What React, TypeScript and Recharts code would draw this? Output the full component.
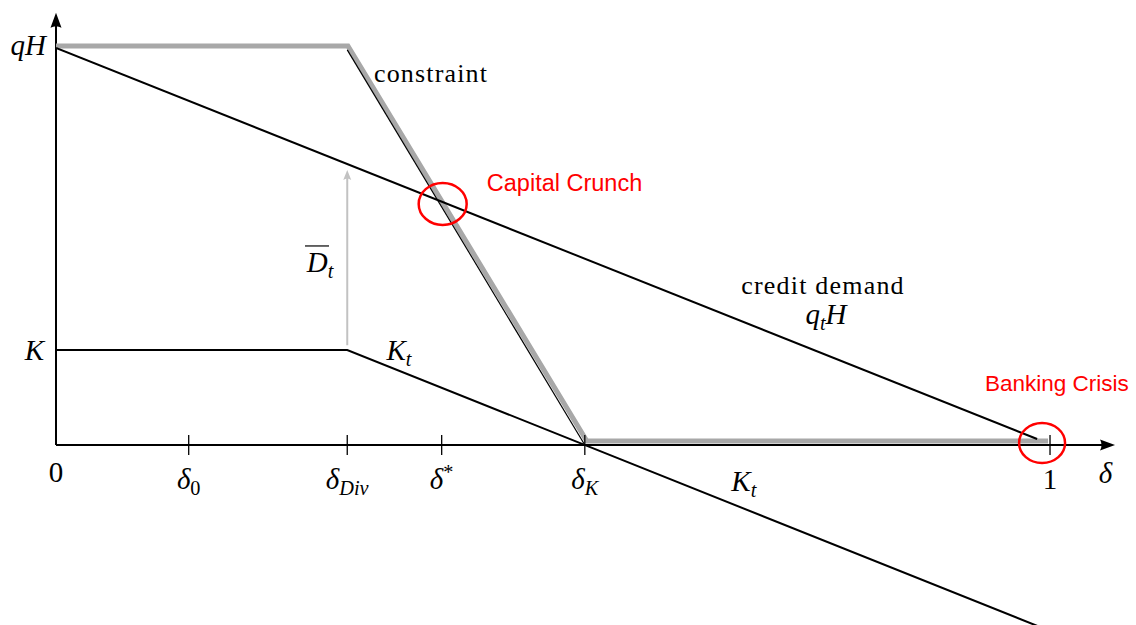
import React from 'react';
import {
  ComposedChart,
  Line,
  XAxis,
  YAxis,
  ReferenceLine,
  ReferenceDot,
} from 'recharts';

// values: δ along x, qH normalised to 1
const delta0 = 0.1335;
const deltaDiv = 0.293;
const deltaStar = 0.388;
const deltaK = 0.532;
const capitalK = 0.238;

const creditDemand = [
  { d: 0, v: 0.995 },
  { d: 0.987, v: 0.015 },
];
const constraintEnvelope = [
  { d: 0, v: 1 },
  { d: 0.2937, v: 1 },
  { d: 0.534, v: 0.01 },
  { d: 0.998, v: 0.01 },
];
const constraintLine = [
  { d: deltaDiv, v: 0.99 },
  { d: deltaK, v: 0 },
];
const capitalPath = [
  { d: 0, v: capitalK },
  { d: deltaDiv, v: capitalK },
  { d: 1, v: -0.466 },
];

type Part = { t: string; it?: boolean; pos?: 'sub' | 'sup' };

const xTicks = [delta0, deltaDiv, deltaStar, deltaK, 1];
const xTickLabels: Part[][] = [
  [{ t: 'δ', it: true }, { t: '0', pos: 'sub' }],
  [{ t: 'δ', it: true }, { t: 'Div', it: true, pos: 'sub' }],
  [{ t: 'δ', it: true }, { t: '*', pos: 'sup' }],
  [{ t: 'δ', it: true }, { t: 'K', it: true, pos: 'sub' }],
  [{ t: '1' }],
];

const SERIF = "'Liberation Serif', 'Times New Roman', serif";
const SANS = "'Liberation Sans', Arial, sans-serif";
const MATH = 29;

function MathText({ x, y, parts, size = MATH, anchor = 'middle', spacing = 0 }: any) {
  let shift = 0;
  const spans = (parts as Part[]).map((p, i) => {
    const target = p.pos === 'sub' ? size * 0.2 : p.pos === 'sup' ? -size * 0.36 : 0;
    const dy = target - shift;
    shift = target;
    return (
      <tspan
        key={i}
        dy={dy}
        fontStyle={p.it ? 'italic' : 'normal'}
        fontSize={p.pos ? size * 0.7 : size}
      >
        {p.t}
      </tspan>
    );
  });
  return (
    <text
      x={x}
      y={y}
      textAnchor={anchor}
      fontFamily={SERIF}
      fontSize={size}
      letterSpacing={spacing}
      fill="#000"
    >
      {spans}
    </text>
  );
}

function ArrowLine(props: any) {
  const { x1, y1, x2, y2, stroke, strokeWidth, head = 15, half = 5.5 } = props;
  const ang = Math.atan2(y2 - y1, x2 - x1);
  const c = Math.cos(ang);
  const s = Math.sin(ang);
  const bx = x2 - head * c;
  const by = y2 - head * s;
  const nx = -s * half;
  const ny = c * half;
  return (
    <g>
      <line x1={x1} y1={y1} x2={bx + 2 * c} y2={by + 2 * s} stroke={stroke} strokeWidth={strokeWidth} />
      <path
        d={`M${x2},${y2} L${bx + nx},${by + ny} Q${bx + 3 * c},${by + 3 * s} ${bx - nx},${by - ny} Z`}
        fill={stroke}
      />
    </g>
  );
}

export default function App() {
  return (
    <div style={{ position: 'absolute', left: 0, top: 0, width: 1136, height: 625, background: '#fff' }}>
      <ComposedChart width={1136} height={625} margin={{ top: 10, right: 16, bottom: 0, left: 56 }}>
        <XAxis dataKey="d" type="number" domain={[0, 1.0704]} allowDataOverflow hide />
        <YAxis type="number" domain={[-0.451, 1.09]} allowDataOverflow hide />

        {/* axes with arrow heads */}
        <ReferenceLine
          segment={[{ x: 0, y: 0 }, { x: 1.0654, y: 0 }]}
          stroke="#000"
          strokeWidth={2}
          shape={(p: any) => <ArrowLine {...p} />}
        />
        <ReferenceLine
          segment={[{ x: 0, y: 0 }, { x: 0, y: 1.083 }]}
          stroke="#000"
          strokeWidth={2}
          shape={(p: any) => <ArrowLine {...p} />}
        />

        {/* gray arrow: D-bar_t */}
        <ReferenceLine
          segment={[{ x: deltaDiv, y: capitalK + 0.012 }, { x: deltaDiv, y: 0.689 }]}
          stroke="#c2c2c2"
          strokeWidth={2}
          shape={(p: any) => <ArrowLine {...p} head={10} half={4} />}
        />

        {/* series */}
        <Line data={constraintEnvelope} dataKey="v" type="linear" stroke="#a8a8a8" strokeWidth={5}
          strokeLinejoin="miter" dot={false} activeDot={false} isAnimationActive={false} />
        <Line data={constraintLine} dataKey="v" type="linear" stroke="#000" strokeWidth={1.2}
          dot={false} activeDot={false} isAnimationActive={false} />
        <Line data={creditDemand} dataKey="v" type="linear" stroke="#000" strokeWidth={2}
          dot={false} activeDot={false} isAnimationActive={false} />
        <Line data={capitalPath} dataKey="v" type="linear" stroke="#000" strokeWidth={2}
          dot={false} activeDot={false} isAnimationActive={false} />

        {/* x ticks */}
        {xTicks.map((t, i) => (
          <ReferenceDot
            key={'tick' + i}
            x={t}
            y={0}
            r={0}
            shape={(p: any) => (
              <g>
                <line x1={p.cx} x2={p.cx} y1={p.cy - 10} y2={p.cy + 10} stroke="#000" strokeWidth={1.3} />
                <MathText x={p.cx} y={p.cy + 44} parts={xTickLabels[i]} />
              </g>
            )}
          />
        ))}
        <ReferenceDot x={0} y={0} r={0}
          shape={(p: any) => <MathText x={p.cx} y={p.cy + 37} parts={[{ t: '0' }]} />} />
        <ReferenceDot x={1.0558} y={0} r={0}
          shape={(p: any) => <MathText x={p.cx} y={p.cy + 38} parts={[{ t: 'δ', it: true }]} />} />

        {/* y labels */}
        <ReferenceDot x={0} y={1} r={0}
          shape={(p: any) => (
            <MathText x={p.cx - 10} y={p.cy + 9} anchor="end" parts={[{ t: 'q', it: true }, { t: 'H', it: true }]} />
          )} />
        <ReferenceDot x={0} y={capitalK} r={0}
          shape={(p: any) => <MathText x={p.cx - 12} y={p.cy + 10} anchor="end" parts={[{ t: 'K', it: true }]} />} />

        {/* curve labels */}
        <ReferenceDot x={0.3773} y={0.9098} r={0}
          shape={(p: any) => <MathText x={p.cx} y={p.cy} size={26} spacing={1.15} parts={[{ t: 'constraint' }]} />} />
        <ReferenceDot x={0.7716} y={0.3784} r={0}
          shape={(p: any) => <MathText x={p.cx} y={p.cy} size={26} spacing={1.2} parts={[{ t: 'credit demand' }]} />} />
        <ReferenceDot x={0.7746} y={0.3033} r={0}
          shape={(p: any) => (
            <MathText x={p.cx} y={p.cy} parts={[{ t: 'q', it: true }, { t: 't', it: true, pos: 'sub' }, { t: 'H', it: true }]} />
          )} />
        <ReferenceDot x={0.345} y={0.213} r={0}
          shape={(p: any) => <MathText x={p.cx} y={p.cy} parts={[{ t: 'K', it: true }, { t: 't', it: true, pos: 'sub' }]} />} />
        <ReferenceDot x={0.692} y={-0.115} r={0}
          shape={(p: any) => <MathText x={p.cx} y={p.cy} parts={[{ t: 'K', it: true }, { t: 't', it: true, pos: 'sub' }]} />} />
        <ReferenceDot x={0.2656} y={0.4336} r={0}
          shape={(p: any) => (
            <g>
              <line x1={p.cx - 15} x2={p.cx + 9} y1={p.cy - 26} y2={p.cy - 26} stroke="#000" strokeWidth={1.2} />
              <MathText x={p.cx} y={p.cy} parts={[{ t: 'D', it: true }, { t: 't', it: true, pos: 'sub' }]} />
            </g>
          )} />

        {/* highlighted regimes */}
        <ReferenceDot x={0.389} y={0.604} r={0}
          shape={(p: any) => (
            <ellipse cx={p.cx} cy={p.cy} rx={24} ry={21} fill="none" stroke="#ff0000" strokeWidth={2.5} />
          )} />
        <ReferenceDot x={0.5116} y={0.6366} r={0}
          shape={(p: any) => (
            <text x={p.cx} y={p.cy} textAnchor="middle" fontFamily={SANS} fontSize={23.5} fill="#ff0000">
              Capital Crunch
            </text>
          )} />
        <ReferenceDot x={0.992} y={0.005} r={0}
          shape={(p: any) => (
            <ellipse cx={p.cx} cy={p.cy} rx={23} ry={20} fill="none" stroke="#ff0000" strokeWidth={2.5} />
          )} />
        <ReferenceDot x={0.9346} y={0.1353} r={0}
          shape={(p: any) => (
            <text x={p.cx} y={p.cy} textAnchor="start" fontFamily={SANS} fontSize={22.5} fill="#ff0000">
              Banking Crisis
            </text>
          )} />
      </ComposedChart>
    </div>
  );
}
